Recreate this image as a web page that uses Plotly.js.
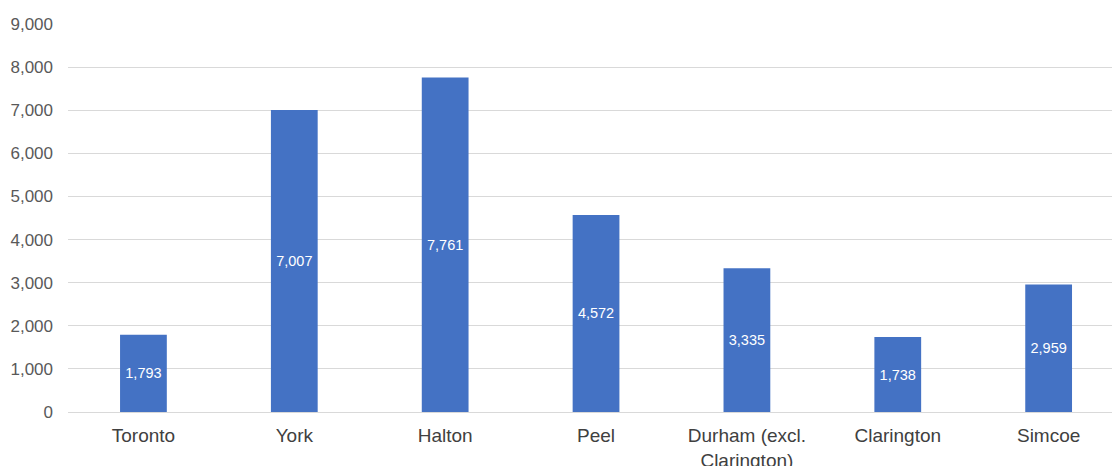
<!DOCTYPE html>
<html>
<head>
<meta charset="utf-8">
<script src="https://cdn.plot.ly/plotly-3.0.1.min.js"></script>
<style>html,body{margin:0;padding:0;background:#fff;overflow:hidden}</style>
</head>
<body>
<div id="chart" style="width:1112px;height:466px"></div>
<script>
const categories = ["Toronto", "York", "Halton", "Peel", "Durham (excl.<br>Clarington)", "Clarington", "Simcoe"];
const values = [1793, 7007, 7761, 4572, 3335, 1738, 2959];
const tickValues = [0, 1000, 2000, 3000, 4000, 5000, 6000, 7000, 8000, 9000];

const trace = {
  type: 'bar',
  x: categories,
  y: values,
  width: 0.31,
  marker: {color: '#4472C4'},
  texttemplate: '%{y:,}',
  textposition: 'inside',
  insidetextanchor: 'middle',
  textangle: 0,
  constraintext: 'none',
  textfont: {family: 'Liberation Sans, Arial, sans-serif', size: 14.5, color: '#ffffff'},
  hoverinfo: 'none'
};

const layout = {
  width: 1112,
  height: 466,
  margin: {l: 68, r: 0, t: 24, b: 54},
  paper_bgcolor: '#ffffff',
  plot_bgcolor: '#ffffff',
  showlegend: false,
  bargap: 0.69,
  xaxis: {
    type: 'category',
    range: [-0.5, 6.42],
    showgrid: false,
    zeroline: false,
    showline: false,
    ticks: '',
    ticklabelstandoff: 10,
    tickfont: {family: 'Liberation Sans, Arial, sans-serif', size: 19, color: '#404040'},
    fixedrange: true
  },
  yaxis: {
    range: [0, 9000],
    tickvals: tickValues,
    tickformat: ',',
    showgrid: true,
    gridcolor: '#d9d9d9',
    gridwidth: 1,
    zeroline: true,
    zerolinecolor: '#d9d9d9',
    zerolinewidth: 1,
    showline: false,
    ticks: '',
    ticklabelstandoff: 14,
    tickfont: {family: 'Liberation Sans, Arial, sans-serif', size: 17, color: '#595959'},
    fixedrange: true
  }
};

Plotly.newPlot('chart', [trace], layout, {displayModeBar: false, staticPlot: true});
</script>
</body>
</html>
